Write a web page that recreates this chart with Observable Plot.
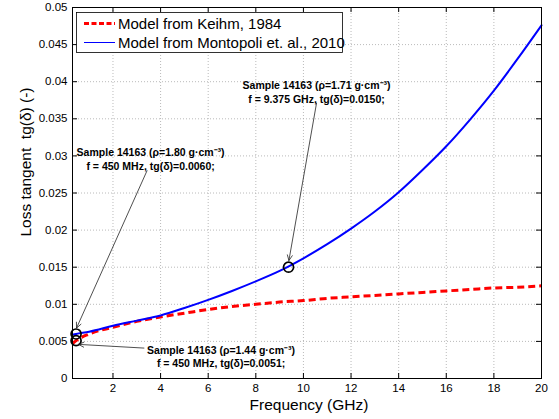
<!DOCTYPE html>
<html><head><meta charset="utf-8">
<script src="https://cdn.jsdelivr.net/npm/d3@7"></script>
<script src="https://cdn.jsdelivr.net/npm/@observablehq/plot@0.6"></script>
<style>
body{margin:0;background:#fff;}
#chart{width:559px;height:419px;}
</style></head><body><div id="chart"></div>
<script>
// ---- data ----
const freqGHz   = [0.3, 0.45, 1, 2, 3, 4, 5, 6, 7, 8, 9, 10, 11, 12, 13, 14, 15, 16, 17, 18, 19, 20];
const keihm     = [0.0047, 0.0051, 0.0060, 0.0069, 0.0077, 0.0083, 0.0088, 0.0093, 0.0097, 0.0100, 0.0103, 0.0105, 0.0108, 0.0110, 0.0112, 0.0114, 0.0116, 0.0118, 0.0120, 0.0122, 0.0123, 0.0125];
const montopoli = [0.0059, 0.0060, 0.0063, 0.0071, 0.0078, 0.0085, 0.0095, 0.0106, 0.0118, 0.0131, 0.0145, 0.0162, 0.0181, 0.0202, 0.0225, 0.0251, 0.0281, 0.0313, 0.0349, 0.0388, 0.0431, 0.0476];

const sampleF     = [0.45, 0.45, 9.375];
const sampleTg    = [0.0051, 0.0060, 0.0150];
const sampleRho   = ["1.44", "1.80", "1.71"];
const sampleFText = ["450 MHz", "450 MHz", "9.375 GHz"];
const sampleTgText = ["0.0051", "0.0060", "0.0150"];

const xTicks = [2, 4, 6, 8, 10, 12, 14, 16, 18, 20];
const yTicks = [0, 0.005, 0.01, 0.015, 0.02, 0.025, 0.03, 0.035, 0.04, 0.045, 0.05];
const yTickLabels = ["0", "0.005", "0.01", "0.015", "0.02", "0.025", "0.03", "0.035", "0.04", "0.045", "0.05"];

const seriesNames = ["Model from Keihm, 1984", "Model from Montopoli et. al., 2010"];

// annotation placement (data units)
const noteX = [6.54, 3.58, 10.55];
const noteY = [0.0030, 0.0296, 0.0387];
const arrowFromX = [3.30, 3.43, 10.55];
const arrowFromY = [0.0041, 0.0280, 0.0371];
const arrowToX = [0.55, 0.47, 9.39];
const arrowToY = [0.0046, 0.0068, 0.0159];

// ---- build ----
const rows = freqGHz.map((f, i) => ({f, keihm: keihm[i], montopoli: montopoli[i]}));
const samples = sampleF.map((f, i) => ({f, tg: sampleTg[i]}));
const notes = sampleF.map((f, i) => ({
  x: noteX[i], y: noteY[i],
  x1: arrowFromX[i], y1: arrowFromY[i], x2: arrowToX[i], y2: arrowToY[i],
  text: `Sample 14163 (ρ=${sampleRho[i]} g·cm⁻³)\nf = ${sampleFText[i]}, tg(δ)=${sampleTgText[i]};`
}));

const W = 559, H = 419, mL = 72, mR = 18, mT = 7, mB = 41;
const FH = H - mT - mB, FW = W - mL - mR;
const font = "Arial, 'Liberation Sans', Helvetica, sans-serif";
const gridStyle = {stroke: "#a8a8a8", strokeOpacity: 1, strokeDasharray: "1,2", strokeWidth: 0.8};

const plot = Plot.plot({
  width: W, height: H,
  marginLeft: mL, marginRight: mR, marginTop: mT, marginBottom: mB,
  style: {fontFamily: font, background: "white", color: "black", overflow: "visible"},
  x: {domain: [0.3, 20]},
  y: {domain: [0, 0.05]},
  marks: [
    Plot.gridX(xTicks, gridStyle),
    Plot.gridY(yTicks, gridStyle),
    Plot.axisX(xTicks, {tickSize: 0, tickPadding: 5, fontSize: 11.5, label: null}),
    Plot.axisY(yTicks, {tickSize: 0, tickPadding: 5, fontSize: 11.5, label: null,
      tickFormat: d => yTickLabels[yTicks.indexOf(d)]}),
    Plot.ruleX(xTicks, {stroke: "black", insetTop: FH - 5}),
    Plot.ruleX(xTicks, {stroke: "black", insetBottom: FH - 5}),
    Plot.ruleY(yTicks, {stroke: "black", insetRight: FW - 5}),
    Plot.ruleY(yTicks, {stroke: "black", insetLeft: FW - 5}),
    Plot.line(rows, {x: "f", y: "keihm", stroke: "#ff0000", strokeWidth: 3, strokeDasharray: "7,4", strokeLinecap: "butt", curve: "monotone-x"}),
    Plot.line(rows, {x: "f", y: "montopoli", stroke: "#0000ff", strokeWidth: 2, curve: "monotone-x"}),
    Plot.dot(samples, {x: "f", y: "tg", r: 5, stroke: "black", strokeWidth: 1.7, fill: "none"}),
    Plot.arrow(notes, {x1: "x1", y1: "y1", x2: "x2", y2: "y2", stroke: "#222", strokeWidth: 0.8, headLength: 11, headAngle: 50, bend: 0}),
    Plot.text(notes, {x: "x", y: "y", text: "text", fontWeight: "bold", fontSize: 10.5, lineHeight: 1.3, fill: "black"}),
    Plot.frame({stroke: "black", strokeWidth: 1}),
    Plot.text(["Frequency (GHz)"], {frameAnchor: "bottom", textAnchor: "middle", lineAnchor: "middle", dy: 27, dx: 2, fontSize: 15.5, fill: "black"}),
    Plot.text(["Loss tangent  tg(δ) (-)"], {frameAnchor: "left", textAnchor: "middle", lineAnchor: "middle", dx: -46, dy: -31, rotate: -90, fontSize: 15.5, fill: "black"})
  ]
});
document.getElementById("chart").appendChild(plot);

// legend box (MATLAB style, inside plot, top-left)
const svg = d3.select(plot);
const lg = svg.append("g").attr("font-family", font).attr("text-anchor", "start");
lg.append("rect").attr("x", 76.5).attr("y", 12.5).attr("width", 266).attr("height", 40)
  .attr("fill", "white").attr("stroke", "black").attr("stroke-width", 0.8);
const legendItems = [
  {name: seriesNames[0], stroke: "#ff0000", width: 3, dash: "5,2.5", y: 23.5},
  {name: seriesNames[1], stroke: "#0000ff", width: 1, dash: null, y: 42.5}
];
legendItems.forEach(it => {
  lg.append("line").attr("x1", 84).attr("x2", 115).attr("y1", it.y).attr("y2", it.y)
    .attr("stroke", it.stroke).attr("stroke-width", it.width).attr("stroke-dasharray", it.dash);
  lg.append("text").attr("x", 118).attr("y", it.y).attr("dy", "0.35em")
    .attr("text-anchor", "start").attr("font-size", 15).attr("fill", "black").text(it.name);
});
</script>
</body></html>
